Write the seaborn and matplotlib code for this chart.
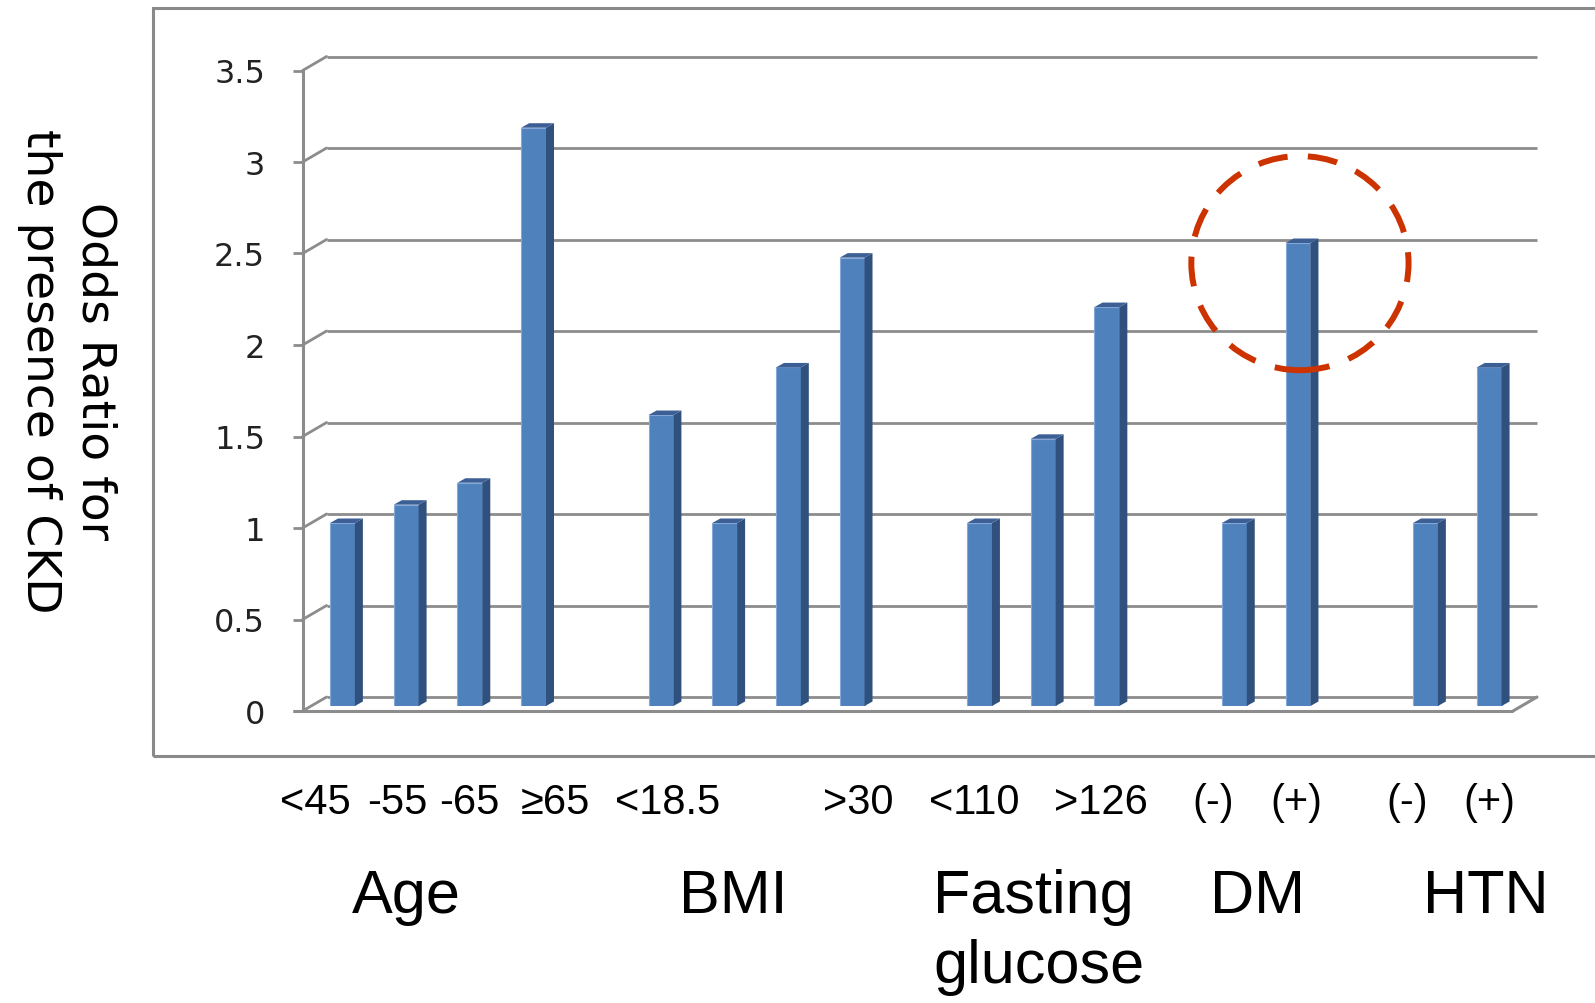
import matplotlib
matplotlib.use("Agg")
import matplotlib.pyplot as plt
import matplotlib.transforms as mtransforms
from matplotlib.patches import Polygon, Ellipse, Rectangle
import pandas as pd
import seaborn as sns

# Odds ratios for the presence of CKD, by risk-factor level
group_names = ["Age", "BMI", "Fasting\nglucose", "DM", "HTN"]
age_levels = ["<45", "-55", "-65", "≥65"]
age_or = [1.00, 1.10, 1.22, 3.16]
bmi_levels = ["<18.5", "", "", ">30"]
bmi_or = [1.59, 1.00, 1.85, 2.45]
glucose_levels = ["<110", "", ">126"]
glucose_or = [1.00, 1.46, 2.18]
dm_levels = ["(-)", "(+)"]
dm_or = [1.00, 2.53]
htn_levels = ["(-)", "(+)"]
htn_or = [1.00, 1.85]
y_ticks = [0, 0.5, 1, 1.5, 2, 2.5, 3, 3.5]
y_tick_labels = ["0", "0.5", "1", "1.5", "2", "2.5", "3", "3.5"]
y_label = "Odds Ratio for\nthe presence of CKD"

# Build one row per bar; an empty slot separates neighbouring groups
levels_by_group = [age_levels, bmi_levels, glucose_levels, dm_levels, htn_levels]
values_by_group = [age_or, bmi_or, glucose_or, dm_or, htn_or]
rows, slot_labels, group_slots = [], [], {}
slot = 0
for g, levels, vals in zip(group_names, levels_by_group, values_by_group):
    group_slots[g] = []
    for lev, v in zip(levels, vals):
        rows.append(dict(slot=slot, group=g, level=lev, odds=v))
        slot_labels.append(lev)
        group_slots[g].append(slot)
        slot += 1
    slot_labels.append("")
    slot += 1
slot_labels = slot_labels[:-1]
n_slots = len(slot_labels)
df = pd.DataFrame(rows)

# Styling
front_color = "#4F81BD"
side_color = "#30507E"
top_color = "#3C6096"
edge_color = "#86A8D8"
grid_color = "#8C8C8C"
frame_color = "#8A8A8A"
ring_color = "#CC3300"
label_font = ["Liberation Sans", "DejaVu Sans"]

# Horizontal nudges of the level labels (in slot units), in label order
level_label_nudge = [-0.42, -0.14, -0.01, 0.35, 0.11, 0.09, -0.09, -0.10,
                     -0.33, -0.02, -0.29, 0.01]
group_label_x = [1.0, 6.14, 10.93, 14.36, 17.95]

sns.set_theme(style="white")
plt.rcParams["font.family"] = ["DejaVu Sans"]

W, H = 1595, 1004
fig = plt.figure(figsize=(W / 100, H / 100), dpi=100)
ax = fig.add_axes([310.6 / W, 1 - 707 / H, (1521 - 310.6) / W, (707 - 66.5) / H])
ax.set_facecolor("none")

sns.barplot(data=df, x="slot", y="odds", order=list(range(n_slots)),
            color=front_color, saturation=1, width=0.39, errorbar=None,
            edgecolor=edge_color, linewidth=0.8, ax=ax, zorder=3)
ax.set_xlim(-0.5, n_slots - 0.5)
ax.set_ylim(0, 3.5)
for s in ax.spines.values():
    s.set_visible(False)
ax.grid(False)
ax.set_xlabel("")
ax.set_ylabel("")

# Pixel -> data conversion for the pseudo-3D depth offsets
p0 = ax.transData.transform((0, 0))
p1 = ax.transData.transform((1, 1))
sx, sy = p1[0] - p0[0], p1[1] - p0[1]
bar_dx, bar_dy = 8 / sx, 4.5 / sy
fdx, fdy = -8 / sx, -5 / sy      # front plane of the floor
bdx, bdy = 16 / sx, 9 / sy       # back wall

# Side and top faces of every bar
for rect in list(ax.patches):
    x0, w, h = rect.get_x(), rect.get_width(), rect.get_height()
    x1 = x0 + w
    ax.add_patch(Polygon([(x1, 0), (x1, h), (x1 + bar_dx, h + bar_dy), (x1 + bar_dx, bar_dy)],
                         closed=True, fc=side_color, ec="none", zorder=3, clip_on=False))
    ax.add_patch(Polygon([(x0, h), (x1, h), (x1 + bar_dx, h + bar_dy), (x0 + bar_dx, h + bar_dy)],
                         closed=True, fc=top_color, ec="none", zorder=3, clip_on=False))

# Back-wall gridlines and their connectors to the value axis
xl, xr = -0.5, n_slots - 0.5
for v in y_ticks:
    ax.plot([xl + bdx, xr + bdx], [v + bdy, v + bdy], color=grid_color, lw=2.0,
            zorder=1, clip_on=False, solid_capstyle="butt")
    ax.plot([xl + fdx, xl + bdx], [v + fdy, v + bdy], color=grid_color, lw=2.0,
            zorder=1, clip_on=False)
    ax.plot([xl + fdx - 10 / sx, xl + fdx], [v + fdy, v + fdy], color=grid_color, lw=2.0,
            zorder=1, clip_on=False, solid_capstyle="butt")
# Value axis and floor edge
ax.plot([xl + fdx, xl + fdx], [fdy, 3.5 + fdy], color=grid_color, lw=2.2, zorder=2, clip_on=False)
ax.plot([xl + fdx - 10 / sx, xr + fdx], [fdy, fdy], color=grid_color, lw=2.2, zorder=2,
        clip_on=False, solid_capstyle="butt")
ax.plot([xr + fdx, xr + bdx], [fdy, bdy], color=grid_color, lw=2.2, zorder=2, clip_on=False)

# Value-axis tick labels, drawn on the front plane
ax.set_yticks(y_ticks, y_tick_labels)
ax.tick_params(axis="y", length=0, pad=32.8, labelsize=23, labelcolor="#222222")
shift = mtransforms.ScaledTranslation(0, -5 / 100, fig.dpi_scale_trans)
for lbl in ax.get_yticklabels():
    lbl.set_transform(lbl.get_transform() + shift)

# Level labels under the bars
label_slots = [i for i, t in enumerate(slot_labels) if t]
label_texts = [slot_labels[i] for i in label_slots]
tick_pos = [i + d for i, d in zip(label_slots, level_label_nudge)]
ax.set_xticks(tick_pos, label_texts)
ax.tick_params(axis="x", length=0, pad=55)
for lbl in ax.get_xticklabels():
    lbl.set_fontfamily(label_font)
    lbl.set_fontsize(30)
    lbl.set_color("black")

# Group names
blend = mtransforms.blended_transform_factory(ax.transData, fig.transFigure)
for g, gx in zip(group_names, group_label_x):
    ax.text(gx, 1 - 869 / H, g, transform=blend, ha="center", va="top",
            multialignment="left", fontsize=44, family=label_font, color="black",
            linespacing=1.3)

# Highlight ring around DM (+)
dm_pos = group_slots["DM"][1]
ax.add_patch(Ellipse((dm_pos + 0.03, 2.42), 3.41, 1.17, fill=False, ec=ring_color,
                     lw=4.3, linestyle=(0, (5, 3.4)), zorder=5, clip_on=False))

# Axis title
fig.text(67 / W, 1 - 371 / H, y_label, rotation=270, ha="center", va="center",
         fontsize=34, multialignment="center", linespacing=1.3, color="black")

# Outer chart frame
fig.patches.append(Rectangle((153 / W, 1 - 757 / H), 2, (757 - 9) / H, transform=fig.transFigure,
                             fill=False, ec=frame_color, lw=2.2, zorder=0))

fig.savefig("out.png", dpi=100)
